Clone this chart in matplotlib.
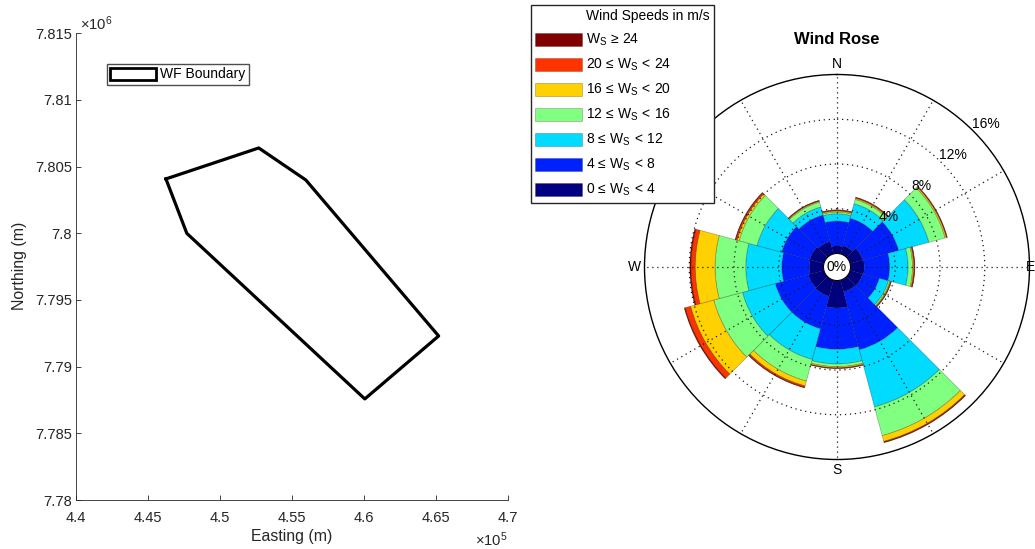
import numpy as np
import matplotlib
matplotlib.use('Agg')
import matplotlib.pyplot as plt
from matplotlib.patches import Patch
from matplotlib.ticker import FuncFormatter, MultipleLocator

plt.rcParams['font.family'] = ['Liberation Sans', 'DejaVu Sans']
plt.rcParams['mathtext.fontset'] = 'custom'
plt.rcParams['mathtext.rm'] = 'Liberation Sans'
plt.rcParams['mathtext.it'] = 'Liberation Sans'
plt.rcParams['mathtext.bf'] = 'Liberation Sans:bold'

# wind farm boundary polygon (UTM, m)
boundary_e = [446250, 452700, 455970, 465200, 460070, 447700, 446250]
boundary_n = [7804080, 7806400, 7804000, 7792300, 7787580, 7800000, 7804080]

# wind rose: 12 sectors (deg from N, clockwise), % of time in each speed bin
directions = np.arange(0, 360, 30)
freq_0_4 = [0.67, 0.76, 1.15, 1.23, 1.15, 1.10, 2.45, 1.50, 1.43, 1.27, 1.30, 1.15]
freq_4_8 = [2.23, 2.54, 3.35, 2.27, 1.55, 5.35, 3.70, 3.00, 3.07, 2.46, 2.60, 2.45]
freq_8_12 = [0.65, 1.35, 2.80, 1.65, 0.85, 5.29, 1.31, 2.85, 3.04, 3.22, 2.30, 0.75]
freq_12_16 = [0.15, 0.40, 1.50, 0.40, 0.13, 2.66, 0.24, 2.00, 2.66, 2.74, 1.65, 0.45]
freq_16_20 = [0.10, 0.10, 0.12, 0.10, 0.07, 0.53, 0.10, 0.45, 2.15, 1.78, 0.20, 0.08]
freq_20_24 = [0.06, 0.07, 0.06, 0.07, 0.05, 0.07, 0.05, 0.13, 0.50, 0.38, 0.12, 0.05]
freq_24 = [0.04, 0.03, 0.02, 0.04, 0.02, 0.05, 0.02, 0.05, 0.08, 0.10, 0.05, 0.03]
speed_bins = [freq_0_4, freq_4_8, freq_8_12, freq_12_16, freq_16_20, freq_20_24, freq_24]
speed_labels = [r'$0\,\leq\,W_S\,<\,4$', r'$4\,\leq\,W_S\,<\,8$', r'$8\,\leq\,W_S\,<\,12$',
                r'$12\,\leq\,W_S\,<\,16$', r'$16\,\leq\,W_S\,<\,20$', r'$20\,\leq\,W_S\,<\,24$',
                r'$W_S\,\geq\,24$']
speed_colors = [(0, 0, 0.5), (0, 0.13, 1), (0, 0.86, 1), (0.5, 1, 0.5),
                (1, 0.82, 0), (1, 0.2, 0), (0.5, 0, 0)]
rings = [4, 8, 12, 16]

W, H = 1035, 549
fig = plt.figure(figsize=(W / 100, H / 100), dpi=100)
axcol = (0.15, 0.15, 0.15)

# ---- boundary map ----
ax = fig.add_axes([76 / W, (H - 500) / H, 431.7 / W, 466.7 / H])
ax.plot(boundary_e, boundary_n, color='k', lw=2.3, label='WF Boundary')
ax.set_xlim(440000, 470000)
ax.set_ylim(7780000, 7815000)
ax.xaxis.set_major_locator(MultipleLocator(5000))
ax.yaxis.set_major_locator(MultipleLocator(5000))
ax.xaxis.set_major_formatter(FuncFormatter(lambda v, p: '%g' % round(v / 1e5, 4)))
ax.yaxis.set_major_formatter(FuncFormatter(lambda v, p: '%g' % round(v / 1e6, 4)))
for s in ['top', 'right']:
    ax.spines[s].set_visible(False)
for s in ['left', 'bottom']:
    ax.spines[s].set_color(axcol)
    ax.spines[s].set_linewidth(0.6)
ax.tick_params(direction='in', length=3.5, width=0.6, color=axcol,
               labelcolor=axcol, labelsize=10.6)
ax.tick_params(axis='x', pad=8)
ax.tick_params(axis='y', pad=3)
ax.set_xlabel('Easting (m)', fontsize=11.4, color=axcol)
ax.set_ylabel('Northing (m)', fontsize=11.4, color=axcol)
ax.xaxis.set_label_coords(0.5, -0.062)
ax.yaxis.set_label_coords(-0.113, 0.501)
ax.text(0.01, 1.0, r'$\times10^{6}$', transform=ax.transAxes, fontsize=10.6,
        color=axcol, ha='left', va='bottom')
ax.text(1.0, -0.066, r'$\times10^{5}$', transform=ax.transAxes, fontsize=10.6,
        color=axcol, ha='right', va='top')
ax.legend(handles=[Patch(facecolor='white', edgecolor='k', linewidth=2.0, label='WF Boundary')],
          loc='upper left', bbox_to_anchor=(107 / W, 1 - 64 / H), bbox_transform=fig.transFigure,
          fontsize=10, fancybox=False, edgecolor='0.3', framealpha=1, borderaxespad=0,
          borderpad=0.25, handlelength=3.3, handleheight=1.0, handletextpad=0.25)

# ---- wind rose ----
cx, cy, R = 837, 267, 192.5
ax2 = fig.add_axes([(cx - R) / W, (H - cy - R) / H, 2 * R / W, 2 * R / H], projection='polar')
ax2.set_theta_zero_location('N')
ax2.set_theta_direction(-1)
ax2.set_ylim(0, 16)
ax2.set_rorigin(-1.21)
ax2.set_xticks([])
ax2.set_yticks([])
ax2.grid(False)
ax2.spines['polar'].set_linewidth(1.0)
ax2.spines['polar'].set_color('k')
if 'inner' in ax2.spines:
    ax2.spines['inner'].set_visible(False)

theta = np.deg2rad(directions)
bottom = np.zeros(len(directions))
for vals, col in zip(speed_bins, speed_colors):
    ax2.bar(theta, vals, width=np.deg2rad(30), bottom=bottom, color=col,
            edgecolor=(0, 0, 0, 0.3), linewidth=0.5, zorder=2)
    bottom += np.array(vals)

dots = (0, (1, 3))
for a in np.arange(0, 360, 30):
    ax2.plot([np.deg2rad(a)] * 2, [0, 16], ls=dots, color='0.1', lw=0.9, zorder=3)
tt = np.linspace(0, 2 * np.pi, 400)
for r in rings[:-1]:
    ax2.plot(tt, np.full_like(tt, r), ls=dots, color='0.1', lw=0.9, zorder=3)
for r in rings:
    ax2.text(np.deg2rad(46), r + 1.25, '%d%%' % r, ha='center', va='center', fontsize=10, zorder=4)
ax2.text(0, ax2.get_rorigin(), '0%', ha='center', va='center', fontsize=10, zorder=4)
for lab, a in zip(['N', 'S', 'W'], [0, 180, 270]):
    ax2.text(np.deg2rad(a), 16.9, lab, ha='center', va='center', fontsize=10)
fig.text(1.0, 1 - cy / H, 'E', ha='right', va='center', fontsize=10)

fig.text(cx / W, 1 - 40 / H, 'Wind Rose', fontsize=12, fontweight='bold',
         ha='center', va='center')

handles = [Patch(facecolor='white', edgecolor='none', label='Wind Speeds in m/s')]
for col, lab in zip(speed_colors[::-1], speed_labels[::-1]):
    handles.append(Patch(facecolor=col, edgecolor=(0, 0, 0, 0.3), linewidth=0.5, label=lab))
fig.legend(handles=handles, loc='upper left', bbox_to_anchor=(531 / W, 1 - 5 / H),
           fontsize=10, fancybox=False, edgecolor=axcol, framealpha=1, borderaxespad=0,
           borderpad=0.3, handlelength=3.4, handleheight=1.05, handletextpad=0.25,
           labelspacing=0.62)

fig.savefig('out.png', dpi=100)
